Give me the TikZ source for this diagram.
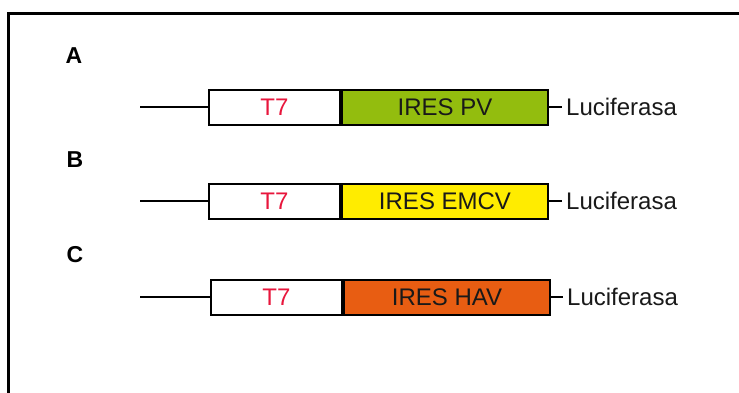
\documentclass[tikz,border=0pt]{standalone}
\usepackage{fontspec}
\setmainfont{Liberation Sans}
\definecolor{t7red}{RGB}{232,22,60}
\definecolor{pvgreen}{RGB}{147,189,14}
\definecolor{emcvyellow}{RGB}{255,236,0}
\definecolor{havorange}{RGB}{232,93,18}
\tikzset{
  txt/.style={font=\fontsize{24}{28}\selectfont},
  boxbase/.style={draw=black, line width=2pt, minimum height=35pt, inner sep=0pt, txt},
  t7box/.style={boxbase, fill=white, text=t7red, minimum width=131pt},
  iresbox/.style={boxbase, text=black!90, minimum width=206pt},
  lbl/.style={font=\fontsize{23}{28}\selectfont\bfseries},
  luc/.style={txt, anchor=west, inner sep=4pt, text=black!90},
  wire/.style={line width=2pt}
}
\begin{document}
\begin{tikzpicture}[x=1pt,y=-1pt]
\useasboundingbox (0,0) rectangle (739,392);
\fill[white] (0,0) rectangle (739,392);
\draw[line width=3pt] (8,400) -- (8,13) -- (745,13);
% labels
\node[lbl] (la) at (74,56) {A};
\node[lbl] (lb) at (75,160) {B};
\node[lbl] (lc) at (75,255) {C};
% row A
\coordinate (sa) at (140,107);
\node[t7box, anchor=west] (ta) at (208,107) {T7};
\node[iresbox, fill=pvgreen, anchor=west] (ia) at (ta.east) {IRES PV};
\node[luc] (lua) at (562,107) {Luciferasa};
\draw[wire] (sa) -- (ta.west);
\draw[wire] (ia.east) -- (lua.west);
% row B
\coordinate (sb) at (140,201);
\node[t7box, anchor=west] (tb) at (208,201) {T7};
\node[iresbox, fill=emcvyellow, anchor=west] (ib) at (tb.east) {IRES EMCV};
\node[luc] (lub) at (562,201) {Luciferasa};
\draw[wire] (sb) -- (tb.west);
\draw[wire] (ib.east) -- (lub.west);
% row C
\coordinate (sc) at (140,297);
\node[t7box, anchor=west] (tc) at (210,297) {T7};
\node[iresbox, fill=havorange, anchor=west] (ic) at (tc.east) {IRES HAV};
\node[luc] (luc) at (563,297) {Luciferasa};
\draw[wire] (sc) -- (tc.west);
\draw[wire] (ic.east) -- (luc.west);
\end{tikzpicture}
\end{document}
